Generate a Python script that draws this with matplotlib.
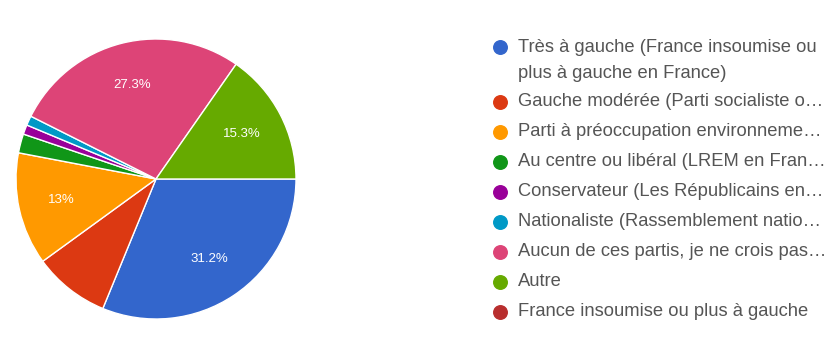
import matplotlib
matplotlib.use("Agg")
import matplotlib.pyplot as plt
import numpy as np

# Répartition des réponses (en %)
categories = [
    "Très à gauche (France insoumise ou\nplus à gauche en France)",
    "Gauche modérée (Parti socialiste o…",
    "Parti à préoccupation environneme…",
    "Au centre ou libéral (LREM en Fran…",
    "Conservateur (Les Républicains en…",
    "Nationaliste (Rassemblement natio…",
    "Aucun de ces partis, je ne crois pas…",
    "Autre",
    "France insoumise ou plus à gauche",
]
values = [31.2, 8.8, 13.0, 2.2, 1.1, 1.1, 27.3, 15.3, 0.0]
colors = ["#3366cc", "#dc3912", "#ff9900", "#109618", "#990099",
          "#0099c6", "#dd4477", "#66aa00", "#b82e2e"]

W, H = 838, 345
fig = plt.figure(figsize=(W / 100, H / 100), dpi=100)
fig.patch.set_facecolor("white")
plt.rcParams["font.family"] = ["Liberation Sans", "DejaVu Sans"]

# Camembert
cx, cy, r = 156, 179, 140
ax = fig.add_axes([(cx - r) / W, (H - cy - r) / H, 2 * r / W, 2 * r / H])
shown = [(v, c) for v, c in zip(values, colors) if v > 0]
wedges, _ = ax.pie(
    [v for v, _ in shown],
    colors=[c for _, c in shown],
    startangle=0,
    counterclock=False,
    wedgeprops=dict(edgecolor="white", linewidth=1),
)
for w, (v, _) in zip(wedges, shown):
    if v >= 10:
        ang = np.deg2rad((w.theta1 + w.theta2) / 2)
        ax.text(0.69 * np.cos(ang), 0.69 * np.sin(ang), f"{v:g}%",
                ha="center", va="center", color="white", fontsize=9.5)
ax.set_xlim(-1, 1)
ax.set_ylim(-1, 1)
ax.set_aspect("equal")
ax.axis("off")

# Légende
lg = fig.add_axes([0, 0, 1, 1])
lg.set_xlim(0, W)
lg.set_ylim(H, 0)
lg.axis("off")
rows = [47, 102, 132, 162, 192, 222, 252, 282, 312]
fs = 13.2
for y, label, col in zip(rows, categories, colors):
    lg.scatter([500], [y], s=95, color=col, zorder=3)
    for i, line in enumerate(label.split("\n")):
        lg.text(518, y + 26 * i, line, ha="left", va="center",
                fontsize=fs, color="#555555")

fig.savefig("out.png", dpi=100, facecolor="white")
